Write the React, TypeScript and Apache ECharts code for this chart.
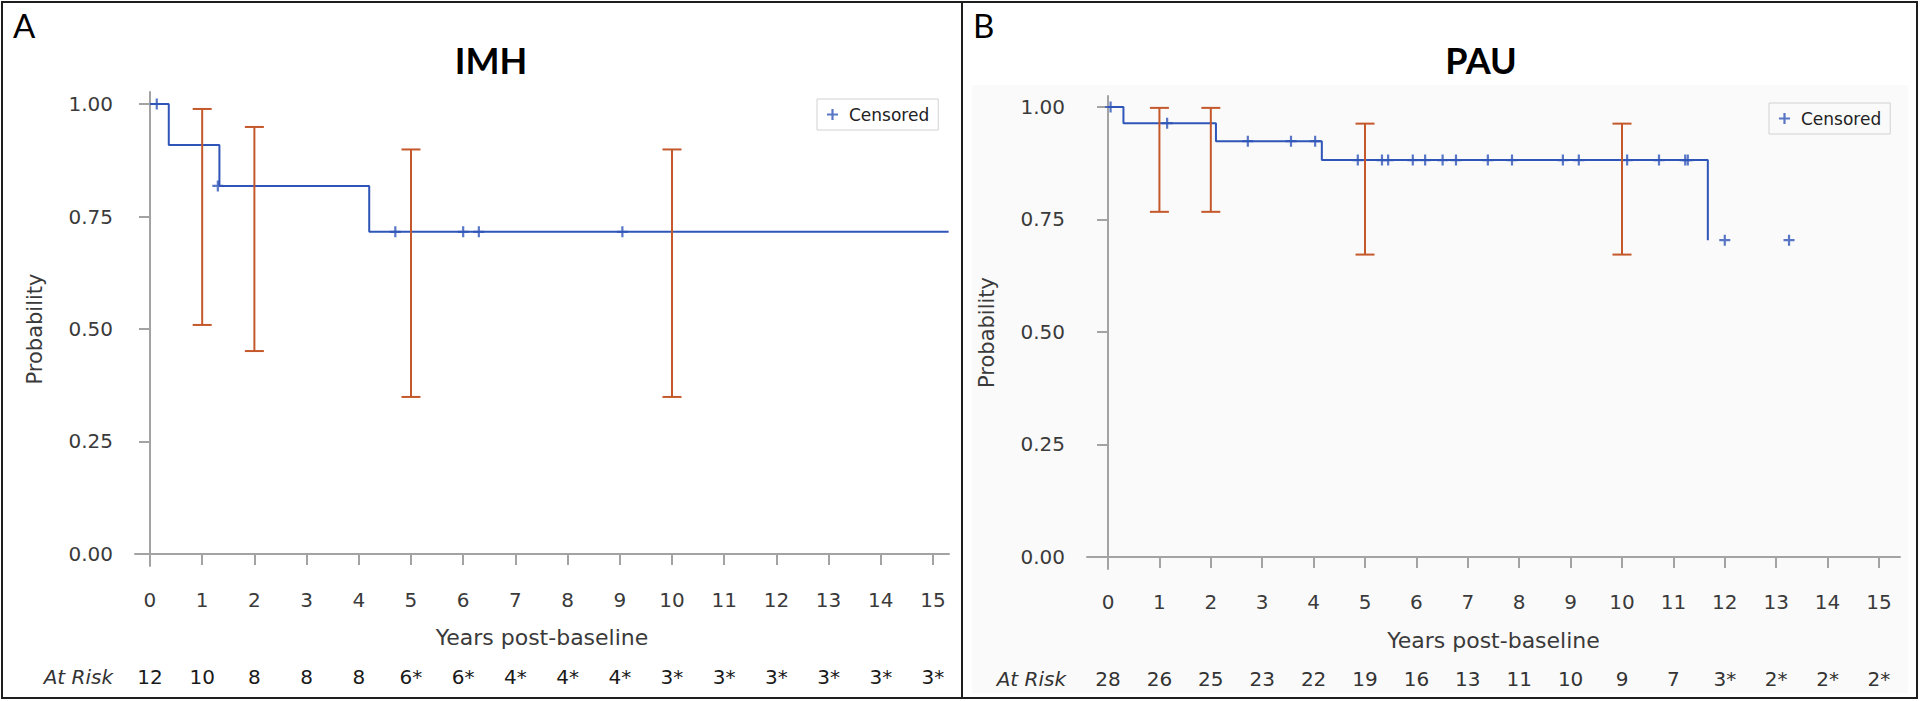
import React, { useEffect, useRef } from "react";
import * as echarts from "echarts";

// ---------- shared ticks ----------
const xTicks = [0, 1, 2, 3, 4, 5, 6, 7, 8, 9, 10, 11, 12, 13, 14, 15];
const yTicks = [0, 0.25, 0.5, 0.75, 1];

// ---------- Panel A: IMH ----------
const imhTimes = [0, 0.36, 1.33, 4.2, 15.3];
const imhSurv = [1, 0.909, 0.818, 0.716, 0.716];
const imhCensorTimes = [0.13, 1.3, 4.7, 6.0, 6.3, 9.05];
const imhCensorSurv = [1, 0.818, 0.716, 0.716, 0.716, 0.716];
const imhCiTimes = [1, 2, 5, 10];
const imhCiLow = [0.509, 0.451, 0.349, 0.349];
const imhCiHigh = [0.989, 0.949, 0.899, 0.899];
const imhAtRisk = ["12", "10", "8", "8", "8", "6*", "6*", "4*", "4*", "4*", "3*", "3*", "3*", "3*", "3*", "3*"];

// ---------- Panel B: PAU ----------
const pauTimes = [0, 0.3, 2.1, 4.16, 11.67];
const pauSurv = [1, 0.964, 0.924, 0.882, 0.704];
const pauCensorTimes = [0.05, 1.15, 2.72, 3.56, 4.03, 4.86, 5.33, 5.45, 5.93, 6.17, 6.51, 6.77, 7.39, 7.86, 8.85, 9.16, 10.1, 10.72, 11.23, 11.28, 12.0, 13.25];
const pauCensorSurv = [1, 0.964, 0.924, 0.924, 0.924, 0.882, 0.882, 0.882, 0.882, 0.882, 0.882, 0.882, 0.882, 0.882, 0.882, 0.882, 0.882, 0.882, 0.882, 0.882, 0.704, 0.704];
const pauCiTimes = [1, 2, 5, 10];
const pauCiLow = [0.767, 0.767, 0.672, 0.672];
const pauCiHigh = [0.998, 0.998, 0.963, 0.963];
const pauAtRisk = ["28", "26", "25", "23", "22", "19", "16", "13", "11", "10", "9", "7", "3*", "2*", "2*", "2*"];

const BLUE = "#2f55b8";
const ORANGE = "#c4582b";
const AXIS = "#a3a3a3";
const TXT = "#3a3a3a";
const FONT = "DejaVu Sans";
const PLUS = "path://M4,0H6V4H10V6H6V10H4V6H0V4H4Z";

function zip(a: number[], b: number[]) {
  return a.map((v, i) => [v, b[i]]);
}

function ciRender(params: any, api: any) {
  const x = api.value(0);
  const lo = api.coord([x, api.value(1)]);
  const hi = api.coord([x, api.value(2)]);
  const hw = 9.5;
  const style = { stroke: ORANGE, lineWidth: 2 };
  return {
    type: "group",
    children: [
      { type: "line", shape: { x1: lo[0], y1: lo[1], x2: hi[0], y2: hi[1] }, style },
      { type: "line", shape: { x1: hi[0] - hw, y1: hi[1], x2: hi[0] + hw, y2: hi[1] }, style },
      { type: "line", shape: { x1: lo[0] - hw, y1: lo[1], x2: lo[0] + hw, y2: lo[1] }, style },
    ],
  };
}

function mainX(grid: number, min: number, max: number, tickMargin: number) {
  return {
    type: "value",
    gridIndex: grid,
    min,
    max,
    position: "bottom",
    axisLine: { show: true, lineStyle: { color: AXIS, width: 2 } },
    axisTick: { show: true, length: 11, customValues: xTicks, lineStyle: { color: AXIS, width: 2 } },
    axisLabel: {
      customValues: xTicks,
      formatter: (v: number) => String(Math.round(v)),
      margin: tickMargin,
      color: TXT,
      fontFamily: FONT,
      fontSize: 20,
    },
    splitLine: { show: false },
    name: "Years post-baseline",
    nameLocation: "middle",
    nameGap: 60,
    nameTextStyle: { color: TXT, fontFamily: FONT, fontSize: 22 },
  };
}

function riskX(grid: number, min: number, max: number, offset: number, risk: string[], color: string) {
  return {
    type: "value",
    gridIndex: grid,
    min,
    max,
    position: "bottom",
    offset,
    axisLine: { show: false },
    axisTick: { show: false },
    splitLine: { show: false },
    axisLabel: {
      customValues: xTicks,
      formatter: (v: number) => risk[Math.round(v)],
      margin: 8,
      color,
      fontFamily: FONT,
      fontSize: 20,
    },
  };
}

function mainY(grid: number, min: number, max: number) {
  return {
    type: "value",
    gridIndex: grid,
    min,
    max,
    axisLine: { show: true, lineStyle: { color: AXIS, width: 2 } },
    axisTick: { show: true, length: 11, customValues: yTicks, lineStyle: { color: AXIS, width: 2 } },
    axisLabel: {
      customValues: yTicks,
      formatter: (v: number) => v.toFixed(2),
      margin: 22,
      color: TXT,
      fontFamily: FONT,
      fontSize: 20,
    },
    splitLine: { show: false },
    name: "Probability",
    nameLocation: "middle",
    nameGap: 90,
    nameTextStyle: { color: TXT, fontFamily: FONT, fontSize: 21 },
  };
}

function legendAt(left: number, top: number) {
  return {
    data: [{ name: "Censored", icon: PLUS }],
    left,
    top,
    orient: "horizontal",
    itemWidth: 11,
    itemHeight: 11,
    padding: [7, 9, 7, 10],
    borderColor: "#d2d2d2",
    borderWidth: 1,
    selectedMode: false,
    textStyle: { color: "#222", fontFamily: FONT, fontSize: 17, padding: [0, 0, 0, 6] },
  };
}

export default function App() {
  const ref = useRef<HTMLDivElement>(null);
  useEffect(() => {
    document.body.style.margin = "0";
    const chart = echarts.init(ref.current!, null, { renderer: "svg" });

    const imhXMin = -0.287, imhXMax = 15.307;
    const pauXMin = -0.409, pauXMax = 15.409;

    const option: any = {
      animation: false,
      backgroundColor: "#ffffff",
      title: [
        { text: "IMH", left: 486, top: 37, textAlign: "center", textStyle: { fontFamily: "Lato", fontWeight: "bold", fontSize: 36, color: "#000" } },
        { text: "PAU", left: 1476, top: 37, textAlign: "center", textStyle: { fontFamily: "Lato", fontWeight: "bold", fontSize: 36, color: "#000" } },
      ],
      legend: [legendAt(817, 99), legendAt(1769, 103)],
      grid: [
        { left: 135, top: 92, width: 814, height: 474, containLabel: false },
        { left: 1087, top: 96, width: 813, height: 473, containLabel: false },
      ],
      xAxis: [
        mainX(0, imhXMin, imhXMax, 24),
        riskX(0, imhXMin, imhXMax, 93, imhAtRisk, "#1a1a1a"),
        mainX(1, pauXMin, pauXMax, 23),
        riskX(1, pauXMin, pauXMax, 92, pauAtRisk, "#333333"),
      ],
      yAxis: [mainY(0, -0.0267, 1.0267), mainY(1, -0.0267, 1.0244)],
      graphic: [
        { type: "rect", silent: true, z: -10, shape: { x: 972, y: 85, width: 936, height: 608 }, style: { fill: "#fafafa" } },
        { type: "rect", silent: true, shape: { x: 2, y: 2, width: 960, height: 696 }, style: { fill: "none", stroke: "#1e1e1e", lineWidth: 2 } },
        { type: "rect", silent: true, shape: { x: 962, y: 2, width: 955, height: 696 }, style: { fill: "none", stroke: "#1e1e1e", lineWidth: 2 } },
        { type: "text", silent: true, x: 13, y: 8, style: { text: "A", fontFamily: "Lato", fontSize: 33, fill: "#000", textAlign: "left", textVerticalAlign: "top" } },
        { type: "text", silent: true, x: 973, y: 8, style: { text: "B", fontFamily: "Lato", fontSize: 33, fill: "#000", textAlign: "left", textVerticalAlign: "top" } },
        { type: "text", silent: true, x: 113, y: 677, style: { text: "At Risk", fontFamily: FONT, fontStyle: "italic", fontSize: 20, fill: "#333", textAlign: "right", textVerticalAlign: "middle" } },
        { type: "text", silent: true, x: 1066, y: 679, style: { text: "At Risk", fontFamily: FONT, fontStyle: "italic", fontSize: 20, fill: "#333", textAlign: "right", textVerticalAlign: "middle" } },
      ],
      series: [
        {
          type: "line", name: "IMH", xAxisIndex: 0, yAxisIndex: 0, step: "end", showSymbol: false,
          data: zip(imhTimes, imhSurv), lineStyle: { color: BLUE, width: 2 }, itemStyle: { color: BLUE }, z: 2,
        },
        {
          type: "scatter", name: "Censored", xAxisIndex: 0, yAxisIndex: 0, symbol: PLUS, symbolSize: 11,
          data: zip(imhCensorTimes, imhCensorSurv), itemStyle: { color: BLUE }, z: 3,
        },
        {
          type: "custom", name: "IMH CI", xAxisIndex: 0, yAxisIndex: 0, renderItem: ciRender,
          encode: { x: 0, y: [1, 2] },
          data: imhCiTimes.map((t, i) => [t, imhCiLow[i], imhCiHigh[i]]), z: 4,
        },
        {
          type: "line", name: "PAU", xAxisIndex: 2, yAxisIndex: 1, step: "end", showSymbol: false,
          data: zip(pauTimes, pauSurv), lineStyle: { color: BLUE, width: 2 }, itemStyle: { color: BLUE }, z: 2,
        },
        {
          type: "scatter", name: "Censored", xAxisIndex: 2, yAxisIndex: 1, symbol: PLUS, symbolSize: 11,
          data: zip(pauCensorTimes, pauCensorSurv), itemStyle: { color: BLUE }, z: 3,
        },
        {
          type: "custom", name: "PAU CI", xAxisIndex: 2, yAxisIndex: 1, renderItem: ciRender,
          encode: { x: 0, y: [1, 2] },
          data: pauCiTimes.map((t, i) => [t, pauCiLow[i], pauCiHigh[i]]), z: 4,
        },
      ],
    };
    chart.setOption(option);
    return () => chart.dispose();
  }, []);
  return <div ref={ref} style={{ width: 1920, height: 701 }} />;
}
